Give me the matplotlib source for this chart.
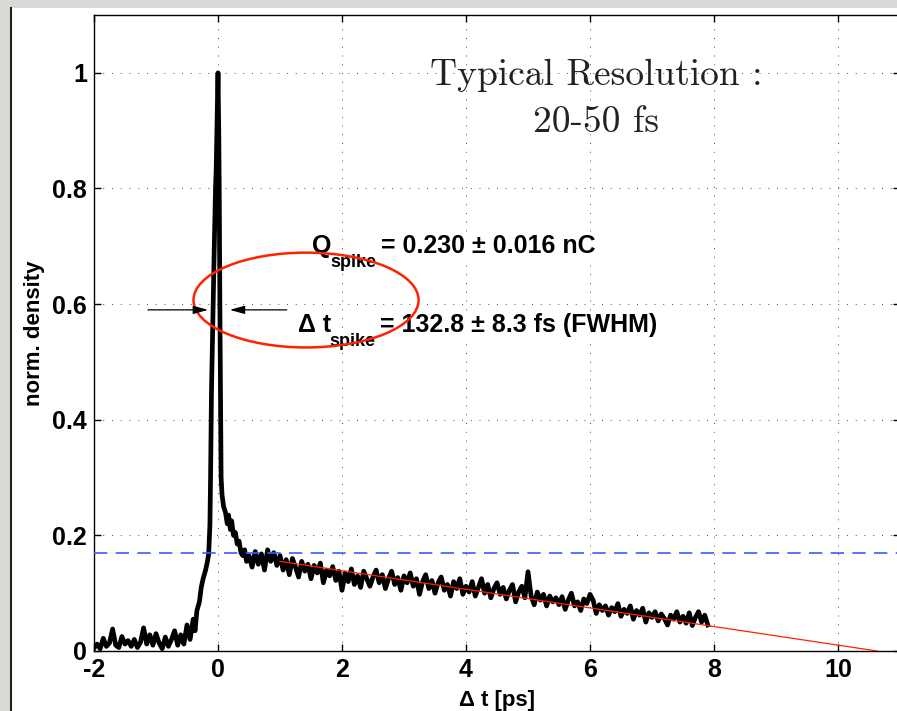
import numpy as np
import matplotlib
matplotlib.use("Agg")
import matplotlib.pyplot as plt
from matplotlib.patches import Ellipse, Rectangle

plt.rcParams['font.family'] = ['Liberation Sans', 'DejaVu Sans']
plt.rcParams['axes.unicode_minus'] = False

# ---- data ----
# baseline before the spike, t = -2.00 ... -0.45 ps, step 0.05
t_base = np.arange(-2.0, -0.449, 0.05)
d_base = [0.005, 0.012, 0.004, 0.022, 0.008, 0.014, 0.038, 0.010, 0.006, 0.025,
          0.012, 0.018, 0.008, 0.020, 0.006, 0.015, 0.040, 0.012, 0.028, 0.010,
          0.030, 0.014, 0.004, 0.024, 0.008, 0.020, 0.035, 0.010, 0.028, 0.012,
          0.045, 0.020]

# rise, spike and fall
t_spike = [-0.40, -0.37, -0.34, -0.30, -0.27, -0.24, -0.20, -0.17, -0.15, -0.13,
           -0.12, -0.105, -0.08, -0.06, -0.04, -0.03, -0.015, 0.0, 0.012, 0.02,
           0.03, 0.04, 0.05, 0.065, 0.09, 0.12, 0.15, 0.17, 0.20, 0.22,
           0.25, 0.28, 0.31, 0.34, 0.37, 0.40, 0.43, 0.46]
d_spike = [0.055, 0.035, 0.070, 0.085, 0.110, 0.125, 0.140, 0.155, 0.168, 0.220,
           0.300, 0.450, 0.590, 0.700, 0.800, 0.830, 0.920, 1.000, 0.900, 0.800,
           0.600, 0.450, 0.300, 0.270, 0.250, 0.240, 0.220, 0.235, 0.210, 0.225,
           0.200, 0.205, 0.185, 0.190, 0.170, 0.165, 0.175, 0.155]

# tail, t = 0.50 ... 7.90 ps, step 0.05
t_tail = np.arange(0.50, 7.901, 0.05)
d_tail = [0.165, 0.145, 0.172, 0.150, 0.168, 0.140, 0.175, 0.155, 0.170, 0.148,
          0.165, 0.140, 0.158, 0.132, 0.160, 0.145, 0.128, 0.155, 0.138, 0.150,
          0.125, 0.148, 0.135, 0.152, 0.118, 0.140, 0.130, 0.146, 0.122, 0.138,
          0.105, 0.135, 0.120, 0.142, 0.115, 0.130, 0.110, 0.138, 0.125, 0.112,
          0.128, 0.140, 0.118, 0.132, 0.108, 0.125, 0.138, 0.115, 0.127, 0.105,
          0.130, 0.118, 0.135, 0.112, 0.125, 0.098, 0.120, 0.132, 0.108, 0.122,
          0.100, 0.118, 0.128, 0.105, 0.115, 0.095, 0.120, 0.108, 0.125, 0.098,
          0.112, 0.102, 0.120, 0.095, 0.110, 0.125, 0.100, 0.115, 0.092, 0.108,
          0.118, 0.098, 0.110, 0.090, 0.105, 0.115, 0.085, 0.102, 0.112, 0.092,
          0.137, 0.095, 0.080, 0.102, 0.088, 0.098, 0.078, 0.095, 0.085, 0.092,
          0.080, 0.094, 0.072, 0.088, 0.100, 0.078, 0.085, 0.070, 0.090, 0.082,
          0.098, 0.088, 0.065, 0.080, 0.070, 0.078, 0.062, 0.075, 0.068, 0.082,
          0.060, 0.072, 0.065, 0.078, 0.055, 0.070, 0.062, 0.074, 0.050, 0.066,
          0.058, 0.068, 0.052, 0.064, 0.056, 0.045, 0.062, 0.055, 0.068, 0.050,
          0.060, 0.048, 0.066, 0.044, 0.058, 0.068, 0.050, 0.062, 0.045]

t_all = np.concatenate([t_base, t_spike, t_tail])
d_all = np.concatenate([d_base, d_spike, d_tail])

# linear fit of the tail
fit_t = [1.0, 10.63]
fit_d = [0.155, 0.0]

level = 0.17

xticks = [-2, 0, 2, 4, 6, 8, 10]
yticks = [0, 0.2, 0.4, 0.6, 0.8, 1]
ytick_labels = ['0', '0.2', '0.4', '0.6', '0.8', '1']

W, H = 897, 711
fig = plt.figure(figsize=(W / 100, H / 100), dpi=100, facecolor='#d9d9d6')

# white panel with dark left border
fig.patches.append(Rectangle((11 / W, 0), 1, (H - 8) / H, transform=fig.transFigure,
                             facecolor='white', edgecolor='none', zorder=-2))
fig.add_artist(plt.Line2D([11 / W, 11 / W], [0, (H - 8) / H], color='#222222',
                          lw=1.5, zorder=-1))

ax = fig.add_axes([94 / W, (H - 651) / H, (900 - 94) / W, (651 - 15) / H])
ax.set_facecolor('white')

ax.plot(t_all, d_all, color='black', lw=3.4, zorder=3)
ax.plot(fit_t, fit_d, color='#ff2200', lw=0.9, zorder=4)
ax.axhline(level, color='#3a5cff', lw=1.2, dashes=(8, 5), zorder=4)

ax.set_xlim(-2, 11)
ax.set_ylim(0, 1.1)
ax.set_xticks(xticks)
ax.set_xticklabels([str(v) for v in xticks])
ax.set_yticks(yticks)
ax.set_yticklabels(ytick_labels)
ax.tick_params(direction='in', top=True, right=True, length=5, width=1,
               labelsize=18, pad=5)
for lab in ax.get_xticklabels() + ax.get_yticklabels():
    lab.set_fontweight('bold')
ax.grid(True, color='0.3', lw=0.7, linestyle=(0, (1, 8)))
for s in ax.spines.values():
    s.set_linewidth(1)

ax.set_xlabel('Δ t [ps]', fontsize=16, fontweight='bold', labelpad=6)
ax.set_ylabel('norm. density', fontsize=16, fontweight='bold', labelpad=5)


def ptext(x, y, s, size):
    # place text at a pixel position of the picture (y measured from the top)
    ax.text(x / W, (H - y) / H, s, transform=fig.transFigure, fontsize=size,
            fontweight='bold', va='baseline', zorder=5,
            bbox=dict(facecolor='white', edgecolor='none', pad=0.5))


# annotations (Q and pulse length, with low-set subscripts)
ptext(312, 253, 'Q', 18)
ptext(330, 267, 'spike', 13)
ptext(381, 253, '= 0.230 ± 0.016 nC', 18)
ptext(298, 332, 'Δ t', 18)
ptext(329, 346, 'spike', 13)
ptext(380, 332, '= 132.8 ± 8.3 fs (FWHM)', 18)

ax.add_patch(Ellipse((1.42, 0.607), 3.63, 0.164, facecolor='none',
                     edgecolor='#ff2200', lw=1.8, zorder=6))

arrow = dict(arrowstyle='-|>,head_length=0.9,head_width=0.25', color='black',
             lw=0.9, shrinkA=0, shrinkB=0)
ax.annotate('', xy=(-0.16, 0.59), xytext=(-1.13, 0.59), arrowprops=arrow, zorder=6)
ax.annotate('', xy=(0.19, 0.59), xytext=(1.11, 0.59), arrowprops=arrow, zorder=6)

ax.text(6.1, 0.979, 'Typical Resolution :', fontsize=27, family='cmr10',
        ha='center', va='baseline', color='#222222', zorder=5)
ax.text(6.1, 0.898, '20-50 fs', fontsize=27, family='cmr10',
        ha='center', va='baseline', color='#222222', zorder=5)

fig.savefig('out.png', dpi=100, facecolor=fig.get_facecolor())
